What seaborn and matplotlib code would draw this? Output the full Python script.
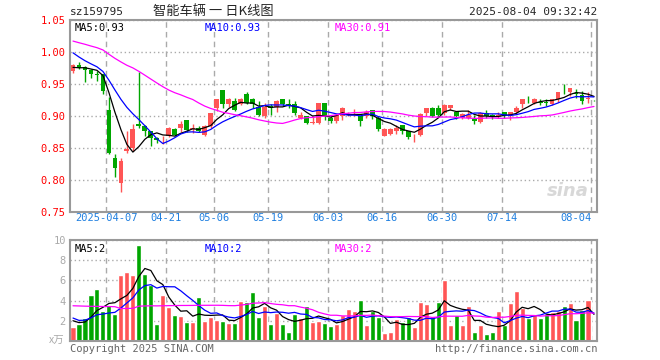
import numpy as np
import pandas as pd
import matplotlib
matplotlib.use("Agg")
import matplotlib.pyplot as plt
import seaborn as sns

# daily candles, 2025-03-27 .. 2025-08-04 (88 trading days)
open_ = [0.971, 0.980, 0.977, 0.972, 0.966, 0.965, 0.910, 0.835, 0.795, 0.846,
         0.850, 0.888, 0.885, 0.876, 0.866, 0.862, 0.868, 0.880, 0.882, 0.893,
         0.879, 0.882, 0.870, 0.884, 0.913, 0.940, 0.918, 0.924, 0.919, 0.934,
         0.927, 0.914, 0.900, 0.915, 0.914, 0.926, 0.918, 0.918, 0.897, 0.900,
         0.889, 0.889, 0.920, 0.897, 0.892, 0.900, 0.901, 0.902, 0.900, 0.900,
         0.910, 0.897, 0.869, 0.872, 0.876, 0.886, 0.876, 0.868, 0.870, 0.904,
         0.912, 0.913, 0.904, 0.912, 0.907, 0.897, 0.897, 0.895, 0.890, 0.904,
         0.902, 0.900, 0.907, 0.901, 0.907, 0.918, 0.927, 0.920, 0.922, 0.921,
         0.919, 0.926, 0.941, 0.938, 0.936, 0.933, 0.927, 0.924]
high = [0.981, 0.985, 0.978, 0.973, 0.971, 0.966, 0.930, 0.840, 0.834, 0.876,
        0.888, 0.968, 0.886, 0.877, 0.867, 0.868, 0.883, 0.881, 0.892, 0.893,
        0.888, 0.884, 0.886, 0.905, 0.926, 0.940, 0.928, 0.928, 0.928, 0.937,
        0.928, 0.924, 0.920, 0.919, 0.925, 0.926, 0.927, 0.924, 0.906, 0.900,
        0.900, 0.921, 0.921, 0.900, 0.903, 0.914, 0.907, 0.911, 0.900, 0.910,
        0.910, 0.900, 0.881, 0.882, 0.886, 0.886, 0.876, 0.872, 0.904, 0.912,
        0.914, 0.917, 0.918, 0.917, 0.908, 0.904, 0.910, 0.901, 0.906, 0.909,
        0.903, 0.907, 0.907, 0.907, 0.915, 0.926, 0.931, 0.928, 0.926, 0.926,
        0.927, 0.938, 0.950, 0.944, 0.942, 0.939, 0.937, 0.925]
low = [0.967, 0.974, 0.953, 0.959, 0.955, 0.934, 0.841, 0.804, 0.781, 0.842,
       0.845, 0.881, 0.868, 0.853, 0.858, 0.856, 0.867, 0.868, 0.875, 0.875,
       0.873, 0.875, 0.868, 0.882, 0.908, 0.913, 0.914, 0.908, 0.917, 0.918,
       0.913, 0.900, 0.897, 0.901, 0.906, 0.915, 0.912, 0.902, 0.896, 0.887,
       0.887, 0.888, 0.893, 0.889, 0.889, 0.893, 0.900, 0.900, 0.884, 0.897,
       0.896, 0.876, 0.868, 0.870, 0.872, 0.872, 0.864, 0.860, 0.868, 0.900,
       0.899, 0.899, 0.902, 0.909, 0.895, 0.895, 0.896, 0.887, 0.889, 0.897,
       0.896, 0.897, 0.897, 0.893, 0.903, 0.912, 0.920, 0.918, 0.917, 0.915,
       0.917, 0.922, 0.934, 0.931, 0.928, 0.918, 0.920, 0.923]
close = [0.980, 0.975, 0.972, 0.966, 0.964, 0.939, 0.842, 0.819, 0.830, 0.848,
         0.879, 0.885, 0.876, 0.866, 0.862, 0.863, 0.882, 0.870, 0.888, 0.878,
         0.882, 0.877, 0.884, 0.904, 0.926, 0.918, 0.926, 0.910, 0.927, 0.920,
         0.919, 0.901, 0.914, 0.913, 0.924, 0.919, 0.915, 0.904, 0.902, 0.889,
         0.890, 0.920, 0.900, 0.892, 0.902, 0.912, 0.903, 0.903, 0.892, 0.907,
         0.900, 0.879, 0.879, 0.879, 0.882, 0.876, 0.867, 0.869, 0.903, 0.912,
         0.900, 0.901, 0.917, 0.917, 0.900, 0.903, 0.901, 0.892, 0.904, 0.900,
         0.898, 0.902, 0.901, 0.907, 0.912, 0.926, 0.926, 0.927, 0.921, 0.920,
         0.927, 0.937, 0.940, 0.944, 0.935, 0.923, 0.928, 0.923]
# volume, 10k units
volume = [1.43, 1.67, 2.3, 4.6, 5.1, 3.0, 3.6, 2.67, 6.5, 6.8,
          6.5, 9.5, 6.6, 5.5, 1.73, 4.6, 3.33, 2.6, 2.5, 1.93,
          1.93, 4.4, 2.0, 2.4, 2.1, 2.0, 1.8, 1.8, 3.93, 3.9,
          4.9, 2.4, 3.5, 1.73, 2.73, 1.73, 0.9, 2.63, 2.3, 3.5,
          1.93, 2.0, 1.8, 1.5, 1.73, 2.6, 3.2, 3.0, 4.1, 1.6,
          3.0, 2.4, 0.83, 0.9, 2.17, 1.9, 2.33, 1.43, 3.9, 3.7,
          2.43, 3.9, 6.0, 1.6, 2.6, 1.6, 3.5, 0.9, 1.6, 0.7,
          0.9, 3.0, 1.6, 3.8, 5.0, 3.3, 2.3, 2.7, 2.3, 2.7,
          2.9, 3.0, 3.5, 3.8, 2.1, 3.1, 4.1, 0.1]

# earlier sessions (off-screen), only feed the moving averages
prev_close = [1.052, 1.045, 1.048, 1.041, 1.046, 1.044, 1.010, 0.998, 1.006, 1.002,
              1.047, 1.055, 1.049, 1.043, 1.038, 1.040, 0.995, 0.988, 0.992, 0.986,
              1.040, 1.030, 1.015, 1.010, 1.012, 0.978, 0.972, 0.976, 0.974]
prev_volume = [2.2, 2.9, 5.0, 5.3, 3.4, 3.8, 3.1, 12.0, 6.5, 6.2,
               3.0, 6.0, 5.0, 2.0, 4.2, 3.0, 2.4, 2.2, 1.9, 1.8,
               4.0, 2.1, 2.3, 2.0, 2.3, 2.6, 2.0, 2.2, 1.8]

tick_idx = [6, 16, 24, 33, 43, 52, 62, 72, 87]
tick_labels = ["2025-04-07", "04-21", "05-06", "05-19", "06-03",
               "06-16", "06-30", "07-14", "08-04"]

RED = "#ff5555"
GREEN = "#00a600"
GRID = "#aaaaaa"
FRAME = "#999999"

df = pd.DataFrame({"i": np.arange(len(close)), "open": open_, "high": high,
                   "low": low, "close": close, "volume": volume})
df["dir"] = np.where(df["close"] >= df["open"], "up", "down")
n_prev = len(prev_close)
c_all = pd.Series(prev_close + close)
v_all = pd.Series(prev_volume + volume)
for n in (5, 10, 30):
    df[f"ma{n}"] = c_all.rolling(n).mean().iloc[n_prev:].to_numpy()
    df[f"vma{n}"] = v_all.rolling(n).mean().iloc[n_prev:].to_numpy()

sns.set_style("white")
plt.rcParams["font.family"] = ["DejaVu Sans Mono", "Noto Sans CJK SC"]

fig = plt.figure(figsize=(6.6, 3.6), dpi=100)
ax = fig.add_axes([70 / 660, 1 - 212 / 360, 527 / 660, 192 / 360])
axv = fig.add_axes([70 / 660, 1 - 341 / 360, 527 / 660, 101 / 360])

# ---- candles
colors = np.where(df["dir"] == "up", RED, GREEN)
body_lo = np.minimum(df["open"], df["close"])
body_h = np.maximum((df["close"] - df["open"]).abs(), 0.0012)
ax.vlines(df["i"], df["low"], df["high"], colors=colors, linewidth=1, zorder=2)
ax.bar(df["i"], body_h, bottom=body_lo, width=0.8, color=colors, linewidth=0, zorder=3)

for col, c in (("ma5", "black"), ("ma10", "#0000ff"), ("ma30", "#ff00ff")):
    sns.lineplot(data=df, x="i", y=col, ax=ax, color=c, linewidth=0.9, zorder=4)

# ---- volume
sns.barplot(data=df, x="i", y="volume", hue="dir", palette={"up": RED, "down": GREEN},
            width=0.85, saturation=1, dodge=False, legend=False, ax=axv, zorder=2)
for col, c in (("vma5", "black"), ("vma10", "#0000ff"), ("vma30", "#ff00ff")):
    sns.lineplot(data=df, x="i", y=col, ax=axv, color=c, linewidth=0.9, zorder=4)

grid_x = [t - 0.42 for t in tick_idx]
for a in (ax, axv):
    a.set_xlim(-0.5, len(close) - 0.5)
    a.set_xticks(grid_x)
    a.xaxis.grid(True, linestyle=(0, (4, 3)), color=GRID, linewidth=1)
    a.yaxis.grid(True, linestyle=(0, (1, 2)), color=GRID, linewidth=1)
    a.set_axisbelow(True)
    a.set_xlabel("")
    a.set_ylabel("")
    a.tick_params(length=0, pad=3, labelsize=7.5)
    for s in a.spines.values():
        s.set_color(FRAME)
        s.set_linewidth(1.5)

ax.set_ylim(0.75, 1.05)
ax.set_yticks([0.75, 0.80, 0.85, 0.90, 0.95, 1.00, 1.05])
ax.set_yticklabels([f"{v:.2f}" for v in ax.get_yticks()], color="#ff0000")
ax.set_xticklabels(tick_labels, color="#1e7fe0")
ax.get_xticklabels()[-1].set_horizontalalignment("right")
ax.tick_params(axis="x", pad=1)

axv.set_ylim(0, 10)
axv.set_yticks([2, 4, 6, 8, 10])
axv.set_yticklabels(["2", "4", "6", "8", "10"], color="#aaaaaa")
axv.set_xticklabels([])

# ---- legends as text
last = df.iloc[-1]
ax.text(0.008, 0.985, f"MA5:{last['ma5']:.2f}", transform=ax.transAxes, va="top", fontsize=7.5, color="black")
ax.text(0.256, 0.985, f"MA10:{last['ma10']:.2f}", transform=ax.transAxes, va="top", fontsize=7.5, color="#0000ff")
ax.text(0.503, 0.985, f"MA30:{last['ma30']:.2f}", transform=ax.transAxes, va="top", fontsize=7.5, color="#ff00ff")
axv.text(0.008, 0.965, f"MA5:{int(last['vma5'])}", transform=axv.transAxes, va="top", fontsize=7.5, color="black")
axv.text(0.256, 0.965, f"MA10:{int(last['vma10'])}", transform=axv.transAxes, va="top", fontsize=7.5, color="#0000ff")
axv.text(0.503, 0.965, f"MA30:{int(last['vma30'])}", transform=axv.transAxes, va="top", fontsize=7.5, color="#ff00ff")

ax.text(0.985, 0.06, "sina", transform=ax.transAxes, ha="right", va="bottom", fontsize=13,
        fontstyle="italic", fontweight="bold", color="#d8d8d8", family="DejaVu Sans", zorder=1)

fig.text(70 / 660, 1 - 12 / 360, "sz159795", va="center", ha="left", fontsize=8)
fig.text(213 / 660, 1 - 12 / 360, "智能车辆 一 日K线图", va="center", ha="center", fontsize=9.5,
         family=["Noto Sans CJK SC", "DejaVu Sans"])
fig.text(597 / 660, 1 - 12 / 360, "2025-08-04 09:32:42", va="center", ha="right", fontsize=8)
fig.text(64 / 660, 1 - 341 / 360, "x万", va="center", ha="right", fontsize=7.5, color="#aaaaaa",
         family=["Noto Sans CJK SC", "DejaVu Sans"])
fig.text(70 / 660, 1 - 349 / 360, "Copyright 2025 SINA.COM", va="center", ha="left", fontsize=7.5, color="#666666")
fig.text(597 / 660, 1 - 349 / 360, "http://finance.sina.com.cn", va="center", ha="right", fontsize=7.5, color="#666666")

fig.savefig("out.png", dpi=100, facecolor="white")
